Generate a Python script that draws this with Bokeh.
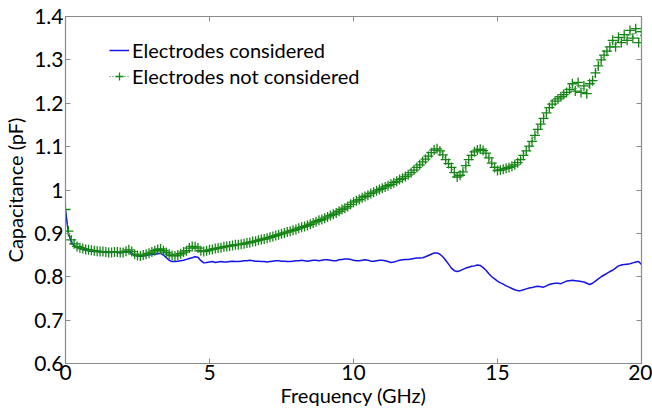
from bokeh.plotting import figure
from bokeh.models import LinearAxis, Range1d, Legend, LegendItem, FixedTicker
from bokeh.embed import file_html
from bokeh.resources import INLINE

freq = [round(i * 0.1, 1) for i in range(201)]

with_electrodes = [
    0.955, 0.900, 0.880, 0.872, 0.868, 0.865, 0.863, 0.861, 0.860, 0.859,
    0.858, 0.858, 0.857, 0.857, 0.856, 0.856, 0.856, 0.857, 0.856, 0.855,
    0.856, 0.858, 0.858, 0.854, 0.850, 0.848, 0.847, 0.848, 0.849, 0.850,
    0.851, 0.852, 0.853, 0.854, 0.850, 0.844, 0.838, 0.835, 0.835, 0.836,
    0.837, 0.838, 0.840, 0.842, 0.844, 0.846, 0.845, 0.837, 0.832, 0.833,
    0.834, 0.835, 0.833, 0.834, 0.835, 0.834, 0.834, 0.835, 0.836, 0.835,
    0.835, 0.836, 0.837, 0.837, 0.838, 0.837, 0.836, 0.836, 0.835, 0.835,
    0.834, 0.835, 0.836, 0.837, 0.837, 0.836, 0.836, 0.835, 0.835, 0.836,
    0.837, 0.837, 0.838, 0.837, 0.836, 0.837, 0.838, 0.838, 0.837, 0.838,
    0.839, 0.839, 0.838, 0.837, 0.837, 0.839, 0.840, 0.841, 0.841, 0.840,
    0.838, 0.837, 0.837, 0.838, 0.839, 0.838, 0.836, 0.836, 0.837, 0.838,
    0.838, 0.837, 0.835, 0.833, 0.834, 0.836, 0.838, 0.839, 0.840, 0.840,
    0.841, 0.842, 0.843, 0.843, 0.844, 0.846, 0.849, 0.852, 0.855, 0.855,
    0.852, 0.846, 0.838, 0.829, 0.820, 0.814, 0.812, 0.814, 0.817, 0.820,
    0.822, 0.824, 0.825, 0.827, 0.826, 0.821, 0.815, 0.807, 0.800, 0.795,
    0.790, 0.786, 0.783, 0.779, 0.776, 0.773, 0.770, 0.768, 0.768, 0.770,
    0.772, 0.774, 0.775, 0.777, 0.778, 0.777, 0.776, 0.779, 0.782, 0.784,
    0.785, 0.785, 0.784, 0.787, 0.790, 0.791, 0.792, 0.791, 0.790, 0.789,
    0.788, 0.785, 0.782, 0.785, 0.790, 0.795, 0.800, 0.804, 0.808, 0.812,
    0.815, 0.820, 0.825, 0.827, 0.828, 0.829, 0.830, 0.832, 0.834, 0.835,
    0.828,
]

without_electrodes = [
    0.955, 0.905, 0.885, 0.876, 0.870, 0.867, 0.865, 0.863, 0.862, 0.861,
    0.860, 0.859, 0.858, 0.858, 0.857, 0.856, 0.856, 0.857, 0.857, 0.856,
    0.856, 0.859, 0.862, 0.858, 0.852, 0.849, 0.848, 0.850, 0.852, 0.854,
    0.857, 0.860, 0.863, 0.864, 0.860, 0.856, 0.852, 0.849, 0.848, 0.850,
    0.853, 0.857, 0.860, 0.866, 0.870, 0.869, 0.866, 0.860, 0.858, 0.860,
    0.862, 0.863, 0.865, 0.866, 0.867, 0.869, 0.870, 0.871, 0.872, 0.874,
    0.874, 0.875, 0.876, 0.878, 0.879, 0.881, 0.882, 0.884, 0.886, 0.887,
    0.889, 0.891, 0.893, 0.895, 0.897, 0.899, 0.901, 0.903, 0.905, 0.907,
    0.909, 0.912, 0.914, 0.916, 0.918, 0.921, 0.924, 0.927, 0.930, 0.932,
    0.935, 0.938, 0.941, 0.944, 0.947, 0.951, 0.955, 0.958, 0.962, 0.967,
    0.972, 0.975, 0.978, 0.982, 0.985, 0.988, 0.992, 0.995, 0.998, 1.001,
    1.004, 1.007, 1.010, 1.013, 1.017, 1.020, 1.024, 1.027, 1.031, 1.035,
    1.040, 1.046, 1.052, 1.058, 1.065, 1.071, 1.078, 1.086, 1.092, 1.095,
    1.090, 1.081, 1.070, 1.061, 1.052, 1.040, 1.030, 1.034, 1.042, 1.056,
    1.070, 1.080, 1.088, 1.092, 1.094, 1.091, 1.085, 1.074, 1.062, 1.052,
    1.045, 1.046, 1.048, 1.050, 1.052, 1.055, 1.058, 1.063, 1.070, 1.080,
    1.090, 1.101, 1.112, 1.126, 1.140, 1.152, 1.165, 1.178, 1.190, 1.198,
    1.205, 1.210, 1.215, 1.220, 1.225, 1.232, 1.245, 1.228, 1.248, 1.225,
    1.240, 1.222, 1.245, 1.252, 1.270, 1.286, 1.300, 1.311, 1.320, 1.330,
    1.345, 1.330, 1.352, 1.340, 1.358, 1.345, 1.368, 1.350, 1.372, 1.340,
    1.365,
]

x_ticks = [0, 5, 10, 15, 20]
y_ticks = [0.6, 0.7, 0.8, 0.9, 1.0, 1.1, 1.2, 1.3, 1.4]
y_tick_labels = {0.6: "0.6", 0.7: "0.7", 0.8: "0.8", 0.9: "0.9", 1.0: "1",
                 1.1: "1.1", 1.2: "1.2", 1.3: "1.3", 1.4: "1.4"}

FONT = "Lato"
FRAME = "#8a8a8a"

p = figure(width=652, height=410, output_backend="svg", toolbar_location=None,
           x_range=Range1d(0, 20), y_range=Range1d(0.6, 1.4),
           x_axis_label="Frequency (GHz)", y_axis_label="Capacitance (pF)",
           min_border_left=63, min_border_right=11, min_border_top=16,
           min_border_bottom=47)
p.grid.visible = False
p.outline_line_color = FRAME
p.outline_line_width = 1.2
p.background_fill_color = "white"
p.border_fill_color = "white"

for ax in (p.xaxis[0], p.yaxis[0]):
    ax.axis_line_color = FRAME
    ax.major_tick_line_color = FRAME
    ax.major_tick_in = 5
    ax.major_tick_out = 0
    ax.minor_tick_line_color = None
    ax.major_label_text_font = FONT
    ax.major_label_text_font_size = "21px"
    ax.major_label_text_color = "black"
    ax.axis_label_text_font = FONT
    ax.axis_label_text_font_size = "20px"
    ax.axis_label_text_font_style = "normal"
    ax.axis_label_text_color = "black"

p.xaxis[0].ticker = FixedTicker(ticks=x_ticks)
p.yaxis[0].ticker = FixedTicker(ticks=y_ticks)
p.yaxis[0].major_label_overrides = y_tick_labels
p.xaxis[0].major_label_standoff = 1
p.xaxis[0].axis_label_standoff = 0
p.yaxis[0].major_label_standoff = 2
p.yaxis[0].axis_label_standoff = 4

for loc, tick_vals in (("right", y_ticks), ("above", x_ticks)):
    ax = LinearAxis(ticker=FixedTicker(ticks=tick_vals))
    ax.axis_line_color = FRAME
    ax.major_tick_line_color = FRAME
    ax.major_tick_in = 5
    ax.major_tick_out = 0
    ax.minor_tick_line_color = None
    ax.major_label_text_font_size = "1px"
    ax.major_label_text_alpha = 0
    ax.major_label_standoff = 0
    p.add_layout(ax, loc)

blue = p.line(freq, with_electrodes, line_color="#1414e6", line_width=1.5)
green_line = p.line(freq, without_electrodes, line_color="#148414",
                    line_width=1, line_dash="1 2")
green_pts = p.scatter(freq, without_electrodes, marker="cross", size=10,
                      line_color="#148414", line_width=1.3)

legend = Legend(items=[
    LegendItem(label="Electrodes considered", renderers=[blue]),
    LegendItem(label="Electrodes not considered", renderers=[green_line, green_pts]),
], location=(44, 275))
legend.border_line_color = None
legend.background_fill_alpha = 0
legend.margin = 0
legend.padding = 0
legend.spacing = 2
legend.glyph_width = 20
legend.label_standoff = 3
legend.label_text_font = FONT
legend.label_text_font_size = "20px"
legend.label_text_color = "black"
p.add_layout(legend)

open("out.html", "w").write(file_html(p, INLINE))
